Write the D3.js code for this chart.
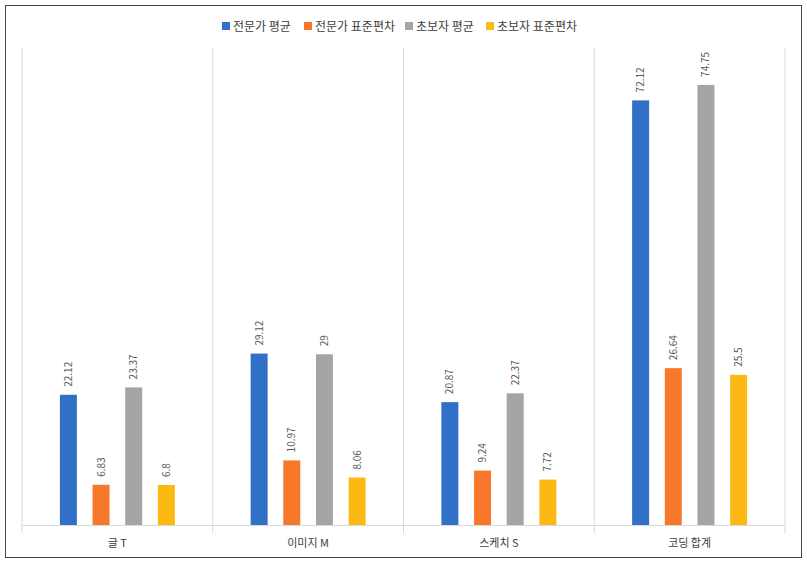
<!DOCTYPE html>
<html><head><meta charset="utf-8">
<script src="https://cdn.jsdelivr.net/npm/d3@7"></script>
<style>body{margin:0;background:#fff}text{font-family:"Noto Sans CJK KR","Noto Sans",sans-serif}</style>
</head><body><svg id="c" width="807" height="563"></svg>
<script>
const categories = ["글 T","이미지 M","스케치 S","코딩 합계"];
const seriesNames = ["전문가 평균","전문가 표준편차","초보자 평균","초보자 표준편차"];
const expertMean = [22.12,29.12,20.87,72.12];
const expertSD = [6.83,10.97,9.24,26.64];
const noviceMean = [23.37,29,22.37,74.75];
const noviceSD = [6.8,8.06,7.72,25.5];
const labels = [["22.12","29.12","20.87","72.12"],["6.83","10.97","9.24","26.64"],["23.37","29","22.37","74.75"],["6.8","8.06","7.72","25.5"]];
const colors = ["#3070c6","#f7782a","#a5a5a5","#fdb913"];
const series = [expertMean,expertSD,noviceMean,noviceSD];

const svg = d3.select("#c");
svg.append("rect").attr("x",5.5).attr("y",5.5).attr("width",796).attr("height",552).attr("fill","#fff").attr("stroke","#444");
const pLeft=22,pRight=785,pBase=525,pTop=48;
const x = d3.scaleBand().domain(categories).range([pLeft,pRight]);
const xs = d3.scaleBand().domain(d3.range(4)).range([0,x.bandwidth()]).paddingInner(0.48).paddingOuter(1.16);
const y = d3.scaleLinear().domain([0,80]).range([pBase,54]);

const seps = [pLeft].concat(categories.map(c=>x(c)+x.bandwidth()));
svg.selectAll("line.sep").data(seps).enter().append("line")
 .attr("x1",d=>d).attr("x2",d=>d).attr("y1",pTop).attr("y2",pBase+8).attr("stroke","#d9d9d9");
svg.append("line").attr("x1",pLeft).attr("x2",pRight).attr("y1",pBase+0.5).attr("y2",pBase+0.5).attr("stroke","#d9d9d9");

series.forEach((s,si)=>{
  const g=svg.append("g");
  g.selectAll("rect").data(s).enter().append("rect")
   .attr("x",(d,i)=>x(categories[i])+xs(si)).attr("width",xs.bandwidth())
   .attr("y",d=>y(d)).attr("height",d=>pBase-y(d)).attr("fill",colors[si]);
  g.selectAll("text").data(s).enter().append("text")
   .attr("transform",(d,i)=>`translate(${x(categories[i])+xs(si)+xs.bandwidth()/2+3.5},${y(d)-8}) rotate(-90)`)
   .attr("font-size",10).attr("fill","#595959").text((d,i)=>labels[si][i]);
});

svg.selectAll("text.cat").data(categories).enter().append("text")
 .attr("x",d=>x(d)+x.bandwidth()/2).attr("y",547).attr("text-anchor","middle")
 .attr("font-size",11).attr("fill","#404040").text(d=>d);

const lx=[222,304,405,486];
seriesNames.forEach((n,i)=>{
  svg.append("rect").attr("x",lx[i]).attr("y",22).attr("width",8).attr("height",8).attr("fill",colors[i]);
  svg.append("text").attr("x",lx[i]+11).attr("y",30.5).attr("font-size",12).attr("fill","#404040").text(n);
});
</script></body></html>
